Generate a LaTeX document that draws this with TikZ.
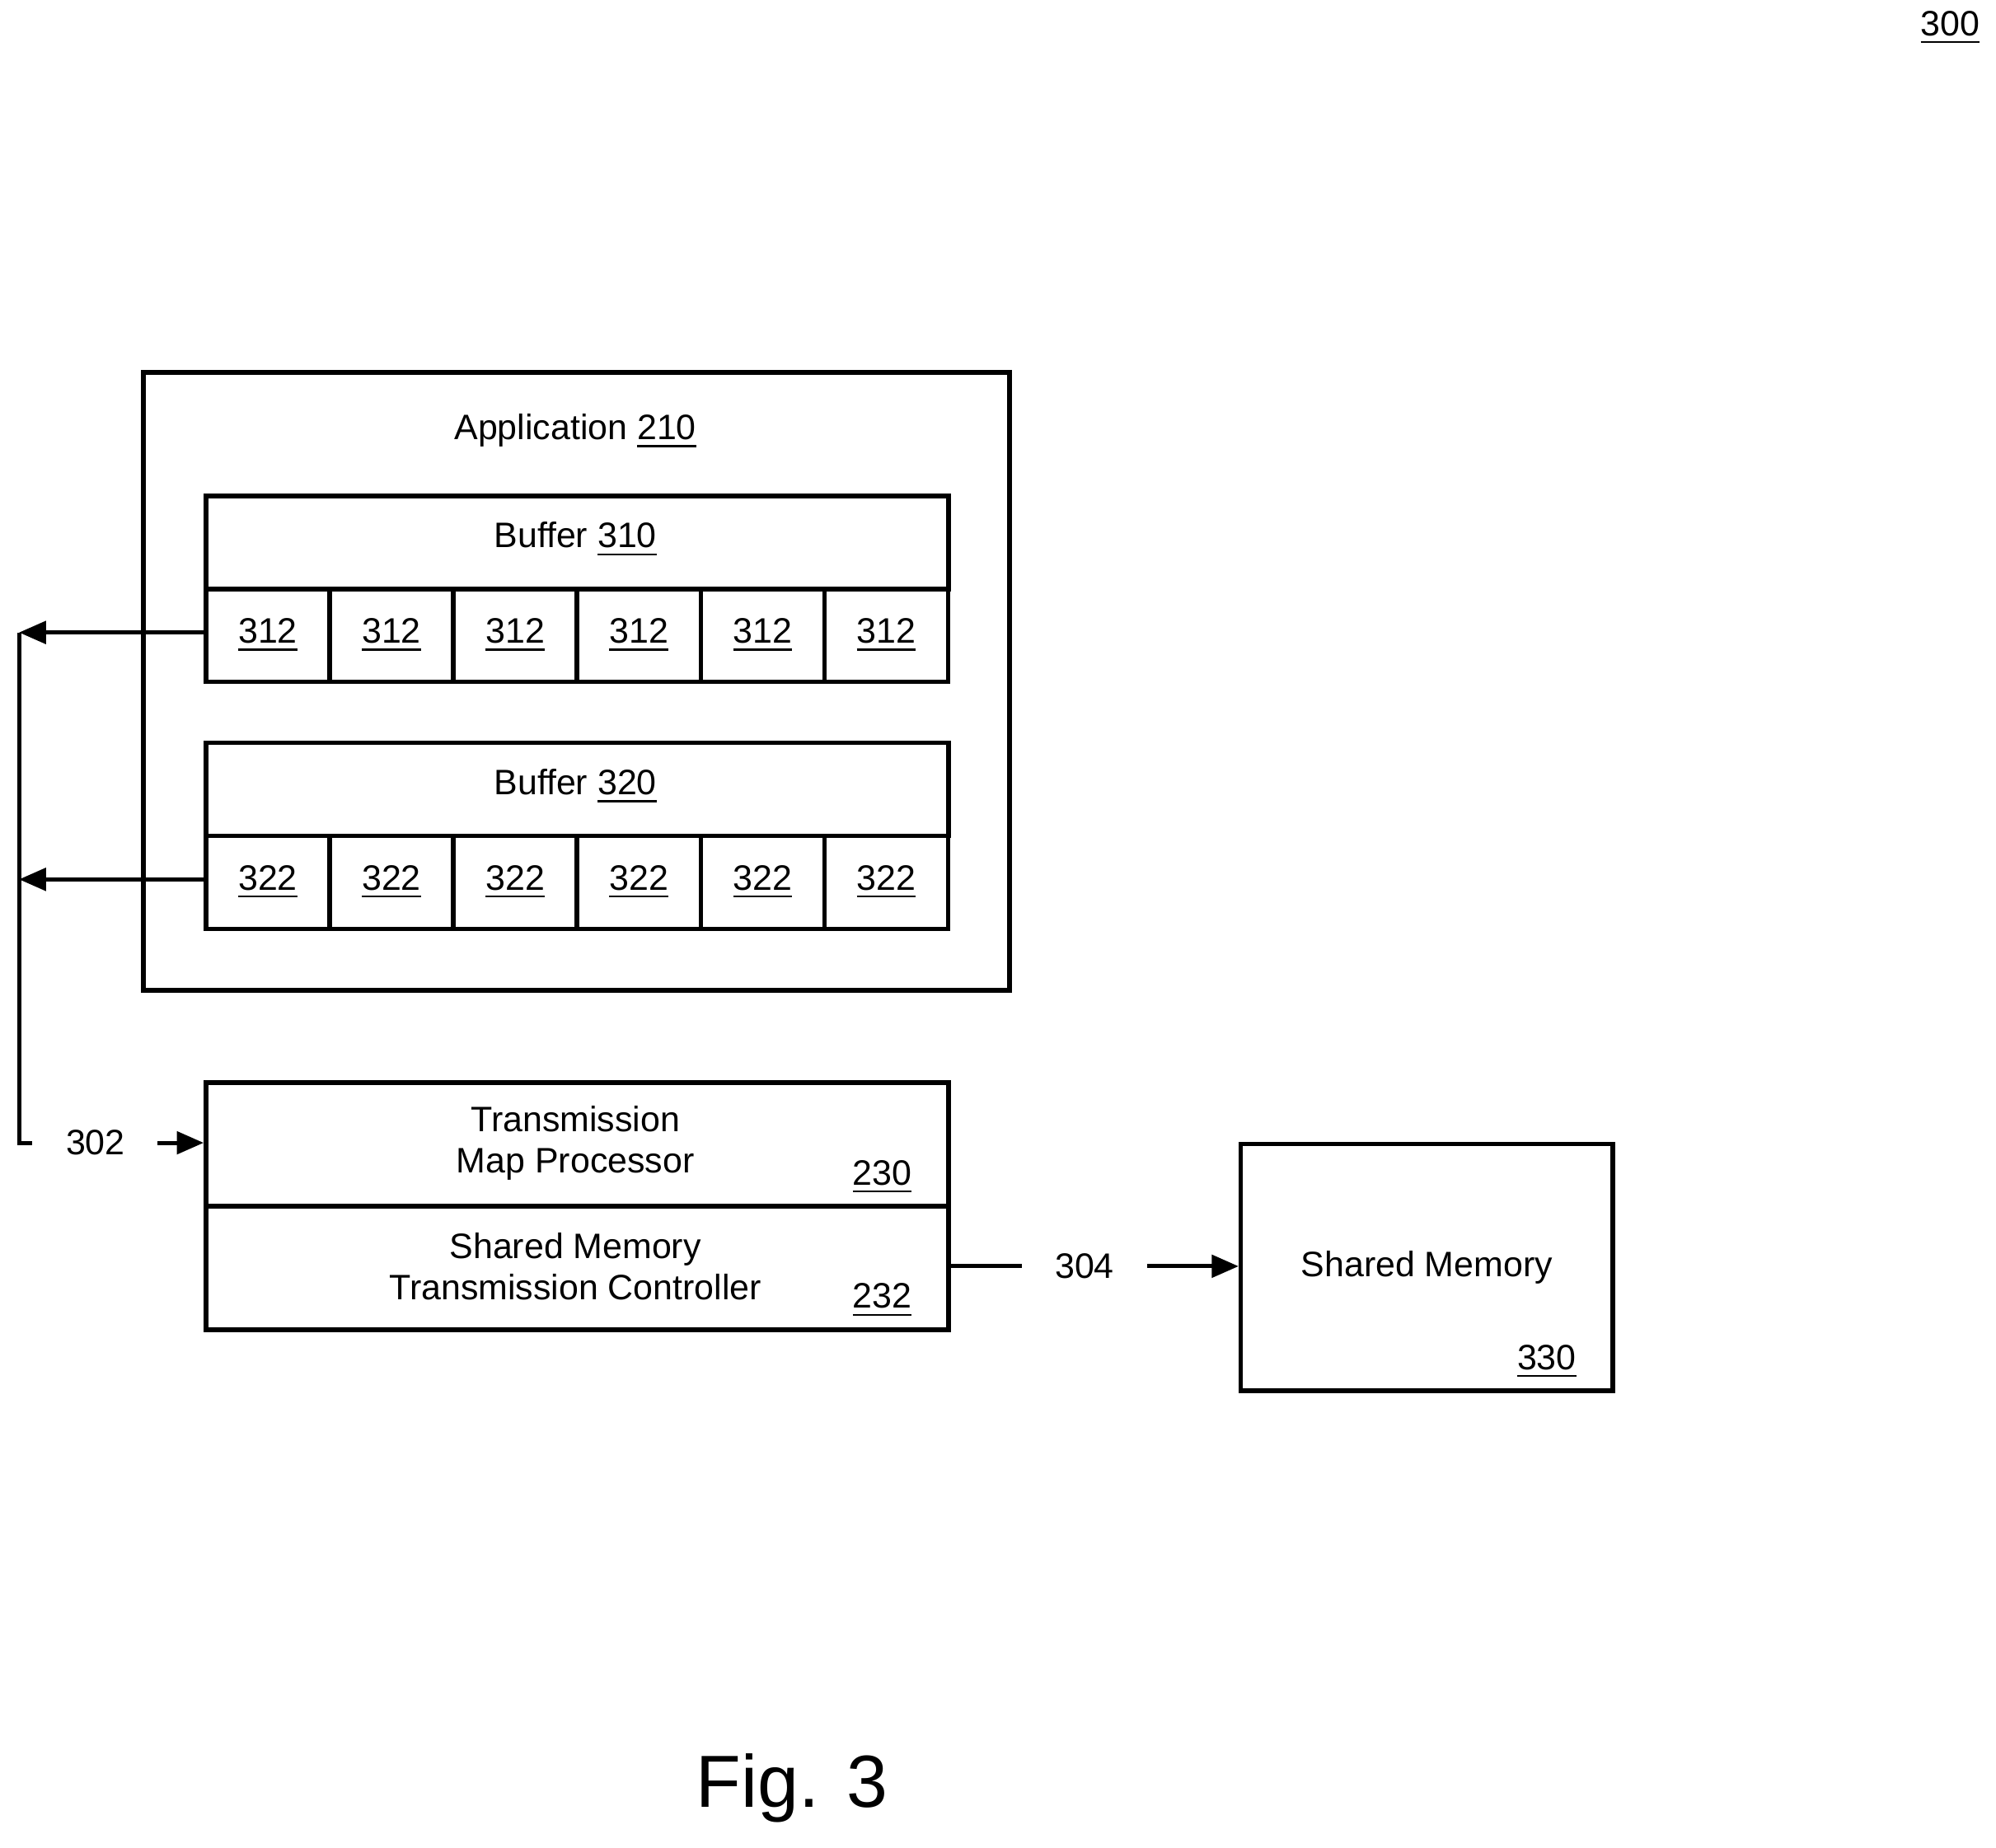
\documentclass[tikz,border=0pt]{standalone}
\usepackage{fontspec}
\setmainfont{Liberation Sans}
\usetikzlibrary{arrows.meta,positioning}
\newcommand{\refnum}[1]{\underline{#1}}
\tikzset{
  box/.style={draw,line width=1pt,inner sep=0pt,anchor=north west},
  cell/.style={box,minimum width=0.9717cm,minimum height=0.73cm},
  txt/.style={font=\fontsize{7.9}{9.2}\selectfont,inner sep=0pt},
  arr/.style={line width=0.9pt,-{Triangle[length=6pt,width=5pt]}},
  wire/.style={line width=0.9pt}
}
\begin{document}
\begin{tikzpicture}[x=0.01cm,y=-0.01cm]
\useasboundingbox (0,0) rectangle (1568,1452);

\node[txt] (fig) at (1532,22) {\refnum{300}};

% application with two buffers
\node[box,minimum width=6.8cm,minimum height=4.85cm] (app) at (111,291) {};
\node[txt] (apptxt) at (452,339) {Application \refnum{210}};

\node[box,minimum width=5.83cm,minimum height=0.73cm] (buf1) at (160,388) {};
\node[txt] at (452,424) {Buffer \refnum{310}};
\node[box,minimum width=5.83cm,minimum height=0.73cm] (buf2) at (160,582) {};
\node[txt] at (452,618) {Buffer \refnum{320}};
\foreach \i in {0,...,5}{
  \node[cell] (a\i) at ({160+97.17*\i},461) {};
  \node[txt] at (a\i.center) {\refnum{312}};
  \node[cell] (b\i) at ({160+97.17*\i},655) {};
  \node[txt] at (b\i.center) {\refnum{322}};
}

% processor and controller
\node[box,minimum width=5.83cm,minimum height=0.97cm] (tmp) at (160,849) {};
\node[txt,align=center] at (452,898) {Transmission\\Map Processor};
\node[txt,anchor=south east] at (717,939) {\refnum{230}};
\node[box,minimum width=5.83cm,minimum height=0.97cm] (smtc) at (160,946) {};
\node[txt,align=center] at (452,995) {Shared Memory\\Transmission Controller};
\node[txt,anchor=south east] at (717,1036) {\refnum{232}};

\node[box,minimum width=2.92cm,minimum height=1.94cm] (mem) at (973,897) {};
\node[txt] at (mem.center) {Shared Memory};
\node[txt,anchor=south east] at (1239,1084) {\refnum{330}};

% connectors
\coordinate (top) at (15,497);
\coordinate (mid) at (15,691);
\coordinate (bot) at (15,898);
\coordinate (botend) at (25,898);
\draw[arr] (top -| a0.west) -- (top);
\draw[arr] (mid -| b0.west) -- (mid);
\draw[wire] (top) -- (bot) -- (botend);
\node[txt] (l302) at (75,898) {302};
\draw[arr] (l302.east) ++(25,0) -- (bot -| tmp.west);
\coordinate (c304) at (803,995);
\draw[wire] (c304 -| smtc.east) -- (c304);
\node[txt] (l304) at (852,995) {304};
\draw[arr] (l304.east) ++(25,0) -- (c304 -| mem.west);

\node[font=\fontsize{16.5}{20}\selectfont] (caption) at (622,1405) {Fig. 3};
\end{tikzpicture}
\end{document}
